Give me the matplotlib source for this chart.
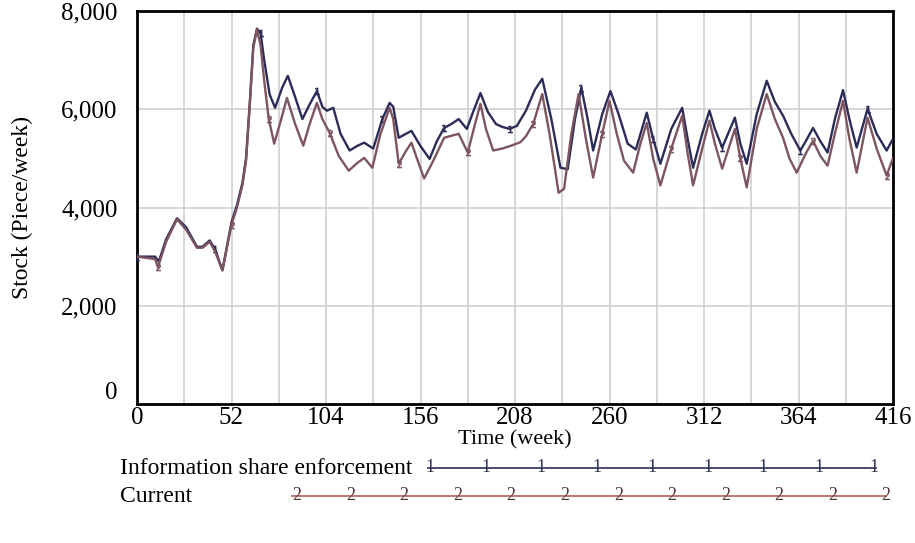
import matplotlib
matplotlib.use("Agg")
import matplotlib.pyplot as plt
from matplotlib.lines import Line2D
import numpy as np

# ---------------- data ----------------
weeks_enf = [0, 10, 12, 16, 22, 27, 33, 36, 40, 43, 47, 52, 55, 58, 60, 62, 64, 66, 68, 70,
             73, 76, 80, 83, 87, 91, 95, 99, 102, 104.5, 108, 112, 117, 121, 125, 130, 135, 139,
             141, 144, 147, 151, 156, 161, 165, 169, 173, 177, 181.5, 185, 189, 193, 197.5,
             201, 205, 209, 214, 219, 223, 228, 233, 237, 241, 244.5, 248, 251, 256, 260.5,
             265, 270, 274.5, 280.5, 284, 288, 294, 300, 303, 306, 311, 315, 318, 322, 329,
             332, 335.5, 341, 346.5, 351, 355.5, 360, 365, 368, 372, 376, 380, 384, 388.5,
             392, 396, 402, 407, 412.5, 416]
stock_enf = [3000, 3000, 2900, 3350, 3780, 3600, 3200, 3200, 3330, 3150, 2720, 3700, 4050, 4500,
             5000, 6100, 7300, 7640, 7550, 7000, 6300, 6030, 6450, 6680, 6250, 5800, 6100, 6370,
             6050, 5970, 6030, 5500, 5160, 5250, 5320, 5200, 5800, 6130, 6050, 5420, 5480, 5560,
             5250, 4990, 5350, 5620, 5700, 5800, 5600, 5950, 6330, 5950, 5700, 5640, 5600, 5660,
             5970, 6400, 6620, 5800, 4810, 4780, 5800, 6440, 5800, 5160, 5900, 6370, 5900, 5300,
             5180, 5930, 5400, 4890, 5600, 6030, 5400, 4810, 5500, 5970, 5600, 5220, 5830, 5300,
             4890, 5900, 6580, 6150, 5870, 5500, 5160, 5350, 5620, 5350, 5120, 5800, 6390, 5800,
             5220, 6010, 5500, 5160, 5400]

weeks_cur = [0, 10, 11.5, 16, 22, 27, 33, 36, 40, 43, 47, 52, 55, 58, 60, 62, 64, 66, 68, 70,
             72.5, 75.5, 79, 82.5, 87, 91.5, 95, 99, 102, 106, 111, 116.5, 121, 125, 129.5, 134,
             139, 141, 144, 148, 151, 155, 158, 163, 169, 173, 177, 182, 186, 189, 192, 196, 201,
             206, 211, 214, 218, 223, 227, 232, 235, 239, 243, 247, 251, 256, 260, 264, 268, 273,
             277, 280.5, 284, 288, 294, 300, 303, 306, 311, 315, 318, 322, 329, 332, 335.5, 341,
             346.5, 351, 355.5, 359, 363, 368, 372, 376, 380, 384, 388.5, 392, 396, 402, 407,
             412.5, 416]
stock_cur = [3000, 2950, 2780, 3300, 3760, 3550, 3180, 3180, 3300, 3100, 2720, 3650, 4000, 4450,
             4950, 6050, 7250, 7620, 7300, 6580, 5800, 5300, 5750, 6230, 5700, 5260, 5700, 6130,
             5800, 5520, 5050, 4750, 4900, 5010, 4810, 5500, 6030, 5800, 4890, 5150, 5320, 4900,
             4590, 4950, 5420, 5460, 5500, 5120, 5700, 6110, 5600, 5160, 5200, 5260, 5330, 5450,
             5700, 6310, 5500, 4300, 4380, 5500, 6310, 5400, 4610, 5500, 6170, 5500, 4950, 4710,
             5300, 5720, 5000, 4450, 5200, 5870, 5100, 4450, 5200, 5770, 5300, 4790, 5600, 5000,
             4410, 5600, 6310, 5800, 5420, 5000, 4710, 5100, 5360, 5050, 4850, 5500, 6170, 5400,
             4710, 5830, 5200, 4650, 5010]

x_ticks = [0, 52, 104, 156, 208, 260, 312, 364, 416]
y_ticks = [0, 2000, 4000, 6000, 8000]
y_tick_labels = ["0", "2,000", "4,000", "6,000", "8,000"]
series_names = ["Information share enforcement", "Current"]

# ---------------- style ----------------
plt.rcParams['font.family'] = ['Liberation Serif', 'DejaVu Serif']
c1 = '#2c2c58'
c2 = '#7d5560'
c1_leg = '#3c3c70'
c2_leg = '#b86a6a'

W, H = 915, 543
fig = plt.figure(figsize=(W / 100, H / 100), dpi=100)
ax = fig.add_axes([137 / W, 1 - 404 / H, (893 - 137) / W, (404 - 11) / H])

ax.plot(weeks_enf, stock_enf, color=c1, lw=1.7, marker='$1$', ms=5, mew=0.5,
        markevery=9, solid_joinstyle='round', zorder=3)
ax.plot(weeks_cur, stock_cur, color=c2, lw=1.7, marker='$2$', ms=5, mew=0.5,
        markevery=(2, 9), solid_joinstyle='round', zorder=3)

ax.set_xlim(0, 416)
ax.set_ylim(0, 8000)
ax.set_xticks(x_ticks)
ax.set_xticks(np.arange(26, 416, 52), minor=True)
ax.set_yticks(y_ticks)
ax.set_yticklabels(y_tick_labels)
ax.grid(True, which='both', color='#cfcfcf', lw=1.2, zorder=0)
ax.tick_params(which='both', length=0)
ax.tick_params(axis='x', labelsize=18, pad=2)
ax.tick_params(axis='y', labelsize=18, pad=14)
lab0 = ax.get_yticklabels()[0]
lab0.set_verticalalignment('bottom')
for s in ax.spines.values():
    s.set_linewidth(2)
    s.set_color('black')

ax.set_xlabel("Time (week)", fontsize=16, labelpad=1)
ax.set_ylabel("Stock (Piece/week)", fontsize=17, labelpad=20)

# ---------------- legend (custom, Vensim-like) ----------------
lax = fig.add_axes([0, 0, 1, 1], zorder=-1)
lax.set_xlim(0, W)
lax.set_ylim(H, 0)
lax.axis('off')
lax.patch.set_alpha(0)

lax.text(120, 468, series_names[0], fontsize=17, va='center', ha='left')
lax.text(120, 496, series_names[1], fontsize=17, va='center', ha='left')
lax.add_line(Line2D([428, 876], [468, 468], color=c1_leg, lw=1.3))
lax.add_line(Line2D([292, 886], [496, 496], color=c2_leg, lw=1.3))
for xm in np.linspace(430, 874, 9):
    lax.text(xm, 467, "1", fontsize=13, ha='center', va='center', color='#333355')
for xm in np.linspace(297, 886, 12):
    lax.text(xm, 495, "2", fontsize=13, ha='center', va='center', color='#553333')

fig.savefig("out.png", dpi=100)
